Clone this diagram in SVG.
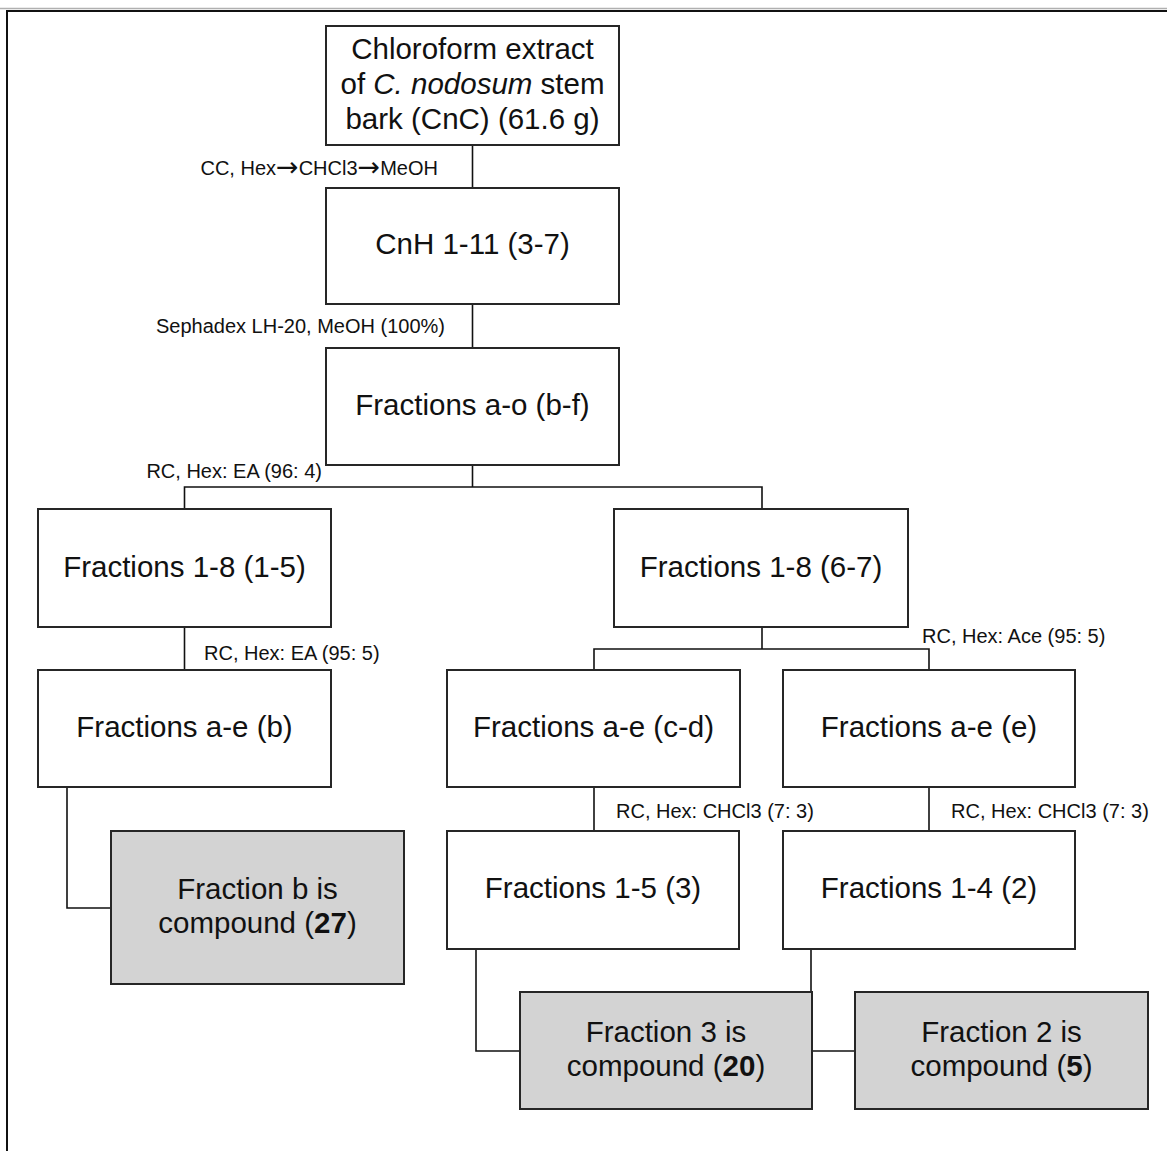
<svg xmlns="http://www.w3.org/2000/svg" width="1167" height="1151" viewBox="0 0 1167 1151">
<style>
.box{fill:#ffffff;stroke:#262626;stroke-width:2}
.cmp{fill:#d3d3d3;stroke:#262626;stroke-width:2}
.t{font-family:"Liberation Sans",Arial,sans-serif;font-size:29.5px;fill:#111;text-anchor:middle}
.lbl{font-family:"Liberation Sans",Arial,sans-serif;font-size:20px;fill:#111}
.e{text-anchor:end}
.ar{font-family:"DejaVu Sans",sans-serif;font-size:27px}
.conn line,.conn polyline{stroke:#111;stroke-width:1.6;fill:none}
</style>
<rect x="0" y="0" width="1167" height="1151" fill="#ffffff"/>
<g id="frame">
<line x1="0" y1="8.5" x2="1167" y2="8.5" stroke="#b0b0b0" stroke-width="1.5"/>
<line x1="7" y1="11" x2="1167" y2="11" stroke="#111" stroke-width="2"/>
<line x1="7" y1="10" x2="7" y2="1151" stroke="#111" stroke-width="2"/>
</g>
<g class="conn" id="connectors">
<line x1="472.5" y1="145" x2="472.5" y2="188"/>
<line x1="472.5" y1="304" x2="472.5" y2="348"/>
<line x1="472.5" y1="465" x2="472.5" y2="487"/>
<polyline points="184.5,509 184.5,487 762,487 762,509"/>
<line x1="184.5" y1="627" x2="184.5" y2="670"/>
<line x1="762" y1="627" x2="762" y2="649"/>
<polyline points="594,670 594,649 929,649 929,670"/>
<line x1="594" y1="787" x2="594" y2="831"/>
<line x1="929" y1="787" x2="929" y2="831"/>
<polyline points="67,787 67,908 111,908"/>
<polyline points="476,949 476,1051 520,1051"/>
<line x1="811" y1="949" x2="811" y2="992"/>
<line x1="812" y1="1051" x2="855" y2="1051"/>
<text class="lbl e" x="438" y="175">CC, Hex<tspan class="ar" dy="1">→</tspan><tspan dy="-1">CHCl3</tspan><tspan class="ar" dy="1">→</tspan><tspan dy="-1">MeOH</tspan></text>
<text class="lbl e" x="445" y="333">Sephadex LH-20, MeOH (100%)</text>
<text class="lbl e" x="322" y="478">RC, Hex: EA (96: 4)</text>
<text class="lbl" x="204" y="660">RC, Hex: EA (95: 5)</text>
<text class="lbl" x="922" y="643">RC, Hex: Ace (95: 5)</text>
<text class="lbl" x="616" y="818">RC, Hex: CHCl3 (7: 3)</text>
<text class="lbl" x="951" y="818">RC, Hex: CHCl3 (7: 3)</text>
</g>
<g id="n-cnc">
<rect class="box" x="326" y="26" width="293" height="119"/>
<text class="t" x="472.5" y="59">Chloroform extract</text>
<text class="t" x="472.5" y="94">of <tspan font-style="italic">C. nodosum</tspan> stem</text>
<text class="t" x="472.5" y="128.5">bark (CnC) (61.6 g)</text>
</g>
<g id="n-cnh">
<rect class="box" x="326" y="188" width="293" height="116"/>
<text class="t" x="472.5" y="254">CnH 1-11 (3-7)</text>
</g>
<g id="n-ao">
<rect class="box" x="326" y="348" width="293" height="117"/>
<text class="t" x="472.5" y="415">Fractions a-o (b-f)</text>
</g>
<g id="n-18a">
<rect class="box" x="38" y="509" width="293" height="118"/>
<text class="t" x="184.5" y="577">Fractions 1-8 (1-5)</text>
</g>
<g id="n-18b">
<rect class="box" x="614" y="509" width="294" height="118"/>
<text class="t" x="761" y="577">Fractions 1-8 (6-7)</text>
</g>
<g id="n-aeb">
<rect class="box" x="38" y="670" width="293" height="117"/>
<text class="t" x="184.5" y="737">Fractions a-e (b)</text>
</g>
<g id="n-aecd">
<rect class="box" x="447" y="670" width="293" height="117"/>
<text class="t" x="593.5" y="737">Fractions a-e (c-d)</text>
</g>
<g id="n-aee">
<rect class="box" x="783" y="670" width="292" height="117"/>
<text class="t" x="929" y="737">Fractions a-e (e)</text>
</g>
<g id="n-15">
<rect class="box" x="447" y="831" width="292" height="118"/>
<text class="t" x="593" y="898">Fractions 1-5 (3)</text>
</g>
<g id="n-14">
<rect class="box" x="783" y="831" width="292" height="118"/>
<text class="t" x="929" y="898">Fractions 1-4 (2)</text>
</g>
<g id="n-c27">
<rect class="cmp" x="111" y="831" width="293" height="153"/>
<text class="t" x="257.5" y="899">Fraction b is</text>
<text class="t" x="257.5" y="933">compound (<tspan font-weight="bold">27</tspan>)</text>
</g>
<g id="n-c20">
<rect class="cmp" x="520" y="992" width="292" height="117"/>
<text class="t" x="666" y="1042">Fraction 3 is</text>
<text class="t" x="666" y="1076">compound (<tspan font-weight="bold">20</tspan>)</text>
</g>
<g id="n-c5">
<rect class="cmp" x="855" y="992" width="293" height="117"/>
<text class="t" x="1001.5" y="1042">Fraction 2 is</text>
<text class="t" x="1001.5" y="1076">compound (<tspan font-weight="bold">5</tspan>)</text>
</g>
</svg>
